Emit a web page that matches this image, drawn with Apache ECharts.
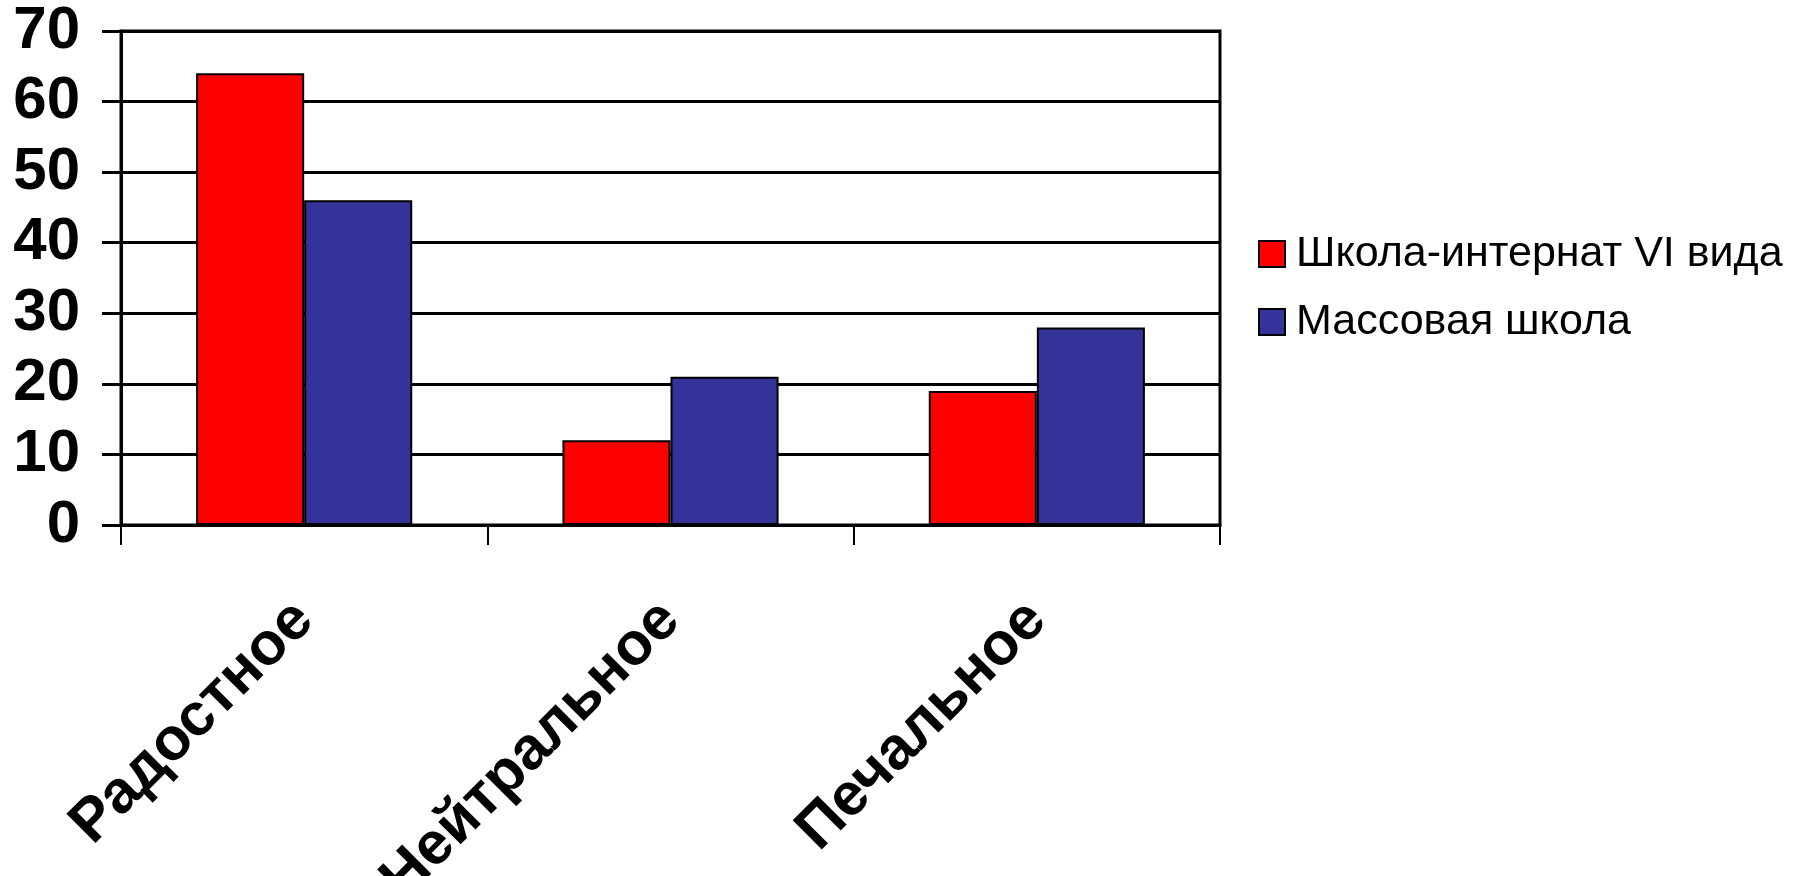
<!DOCTYPE html>
<html><head><meta charset="utf-8">
<script src="https://cdn.jsdelivr.net/npm/echarts@6/dist/echarts.min.js"></script>
<style>html,body{margin:0;padding:0;background:#fff}#c{width:1794px;height:876px}</style>
</head><body><div id="c"></div>
<script>
const categories = ['Радостное', 'Нейтральное', 'Печальное'];
const seriesNames = ['Школа-интернат VI вида', 'Массовая школа'];
const internat = [64, 12, 19];
const mass = [46, 21, 28];
const yTicks = { min: 0, max: 70, interval: 10 };

const chart = echarts.init(document.getElementById('c'), null, { renderer: 'canvas' });
const font = 'Liberation Sans, Arial, sans-serif';
chart.setOption({
  animation: false,
  backgroundColor: '#fff',
  grid: { left: 121, right: 1794 - 1220, top: 31, bottom: 876 - 525, containLabel: false, outerBoundsMode: 'none',
    show: true, borderColor: '#000', borderWidth: 3, backgroundColor: 'transparent' },
  legend: {
    orient: 'vertical', left: 1253, top: 225,
    itemWidth: 26, itemHeight: 26, itemGap: 20,
    icon: 'rect',
    textStyle: { fontFamily: font, fontSize: 43, color: '#000', lineHeight: 48, padding: [0, 0, 0, 6] },
    data: seriesNames
  },
  xAxis: {
    type: 'category', data: categories,
    axisLine: { lineStyle: { color: '#000', width: 3 } },
    axisTick: { show: true, length: 20, lineStyle: { color: '#000', width: 2 } },
    axisLabel: { rotate: 45, margin: 86, fontFamily: font, fontSize: 60, fontWeight: 'bold', color: '#000' }
  },
  yAxis: {
    type: 'value', min: yTicks.min, max: yTicks.max, interval: yTicks.interval,
    axisLine: { show: true, lineStyle: { color: '#000', width: 3 } },
    axisTick: { show: true, length: 19, lineStyle: { color: '#000', width: 3 } },
    splitLine: { show: true, lineStyle: { color: '#000', width: 3 } },
    axisLabel: { margin: 41, fontFamily: font, fontSize: 60, fontWeight: 'bold', color: '#000' }
  },
  series: [
    { name: seriesNames[0], type: 'bar', data: internat, barGap: '0%', barCategoryGap: '41%',
      itemStyle: { color: '#FF0000', borderColor: '#000', borderWidth: 2 } },
    { name: seriesNames[1], type: 'bar', data: mass, barGap: '0%', barCategoryGap: '41%',
      itemStyle: { color: '#333399', borderColor: '#000', borderWidth: 2 } }
  ]
});
</script></body></html>
